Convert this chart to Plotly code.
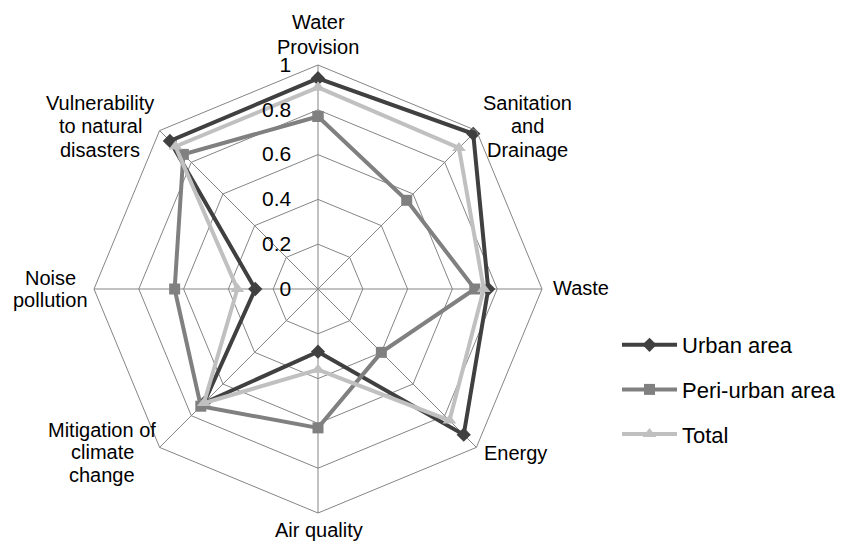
import math
import plotly.graph_objects as go

categories = ["Water Provision", "Sanitation and Drainage", "Waste", "Energy",
              "Air quality", "Mitigation of climate change", "Noise pollution",
              "Vulnerability to natural disasters"]
category_lines = [["Water", "Provision"], ["Sanitation", "and", "Drainage"], ["Waste"], ["Energy"],
                  ["Air quality"], ["Mitigation of", "climate", "change"], ["Noise", "pollution"],
                  ["Vulnerability", "to natural", "disasters"]]
urban = [0.94, 0.98, 0.76, 0.92, 0.28, 0.72, 0.28, 0.935]
peri_urban = [0.77, 0.56, 0.70, 0.40, 0.62, 0.74, 0.64, 0.85]
total = [0.90, 0.89, 0.74, 0.83, 0.36, 0.72, 0.36, 0.90]
radial_ticks = [0, 0.2, 0.4, 0.6, 0.8, 1]
radial_labels = ["0", "0.2", "0.4", "0.6", "0.8", "1"]

series = [
    ("Urban area", urban, "#404040", "diamond", 11),
    ("Peri-urban area", peri_urban, "#808080", "square", 11),
    ("Total", total, "#c0c0c0", "triangle-up", 12),
]

fig = go.Figure()
for name, vals, color, sym, size in series:
    fig.add_trace(go.Scatterpolar(
        r=vals + vals[:1], theta=categories + categories[:1], name=name,
        mode="lines+markers", legendgroup=name,
        line=dict(color=color, width=4),
        marker=dict(symbol=sym, size=size, color=color),
    ))

W, H = 844, 541
OFF = 8  # page body margin offsets the figure on screen
cx, cy, R = 318, 289, 222
dcx, dcy, dR = cx - OFF, cy - OFF, R + 2
fig.update_layout(
    width=W, height=H,
    margin=dict(l=0, r=0, t=0, b=0),
    paper_bgcolor="white", plot_bgcolor="white",
    font=dict(family="Liberation Sans, Arial", size=20, color="black"),
    polar=dict(
        domain=dict(x=[(dcx - dR) / W, (dcx + dR) / W], y=[(H - dcy - dR) / H, (H - dcy + dR) / H]),
        bgcolor="white",
        gridshape="linear",
        angularaxis=dict(rotation=90, direction="clockwise", showline=True,
                         linecolor="#858585", linewidth=1, gridcolor="#858585",
                         gridwidth=1, ticks="", showticklabels=False),
        radialaxis=dict(range=[0, 1], tickvals=radial_ticks, ticktext=radial_labels,
                        angle=90, tickangle=90, side="counterclockwise",
                        showline=False, gridcolor="#858585", gridwidth=1,
                        ticks="outside", ticklen=19, tickcolor="rgba(0,0,0,0)",
                        tickfont=dict(size=21)),
    ),
    legend=dict(x=609 / W, y=1 - 316 / H, xanchor="left", yanchor="top",
                font=dict(size=22), tracegroupgap=13, itemwidth=55),
)

# category label placement on screen (anchor x, xanchor, first-line centre y, line spacing)
label_pos = [
    (318, "center", 22, 25), (527.5, "center", 102.5, 23.5), (552, "left", 287.5, 0),
    (483, "left", 452.5, 0), (319, "center", 530, 0), (102, "center", 429.5, 22.5),
    (50, "center", 277.5, 22.5), (100, "center", 102.5, 23.5),
]
for lines, (px, xa, py0, sp) in zip(category_lines, label_pos):
    for j, line in enumerate(lines):
        fig.add_annotation(x=(px - OFF) / W, y=1 - (py0 + j * sp - OFF) / H,
                           xref="paper", yref="paper",
                           text=line, showarrow=False, xanchor=xa, yanchor="middle",
                           font=dict(size=20), borderpad=0)

fig.write_html("out.html")
